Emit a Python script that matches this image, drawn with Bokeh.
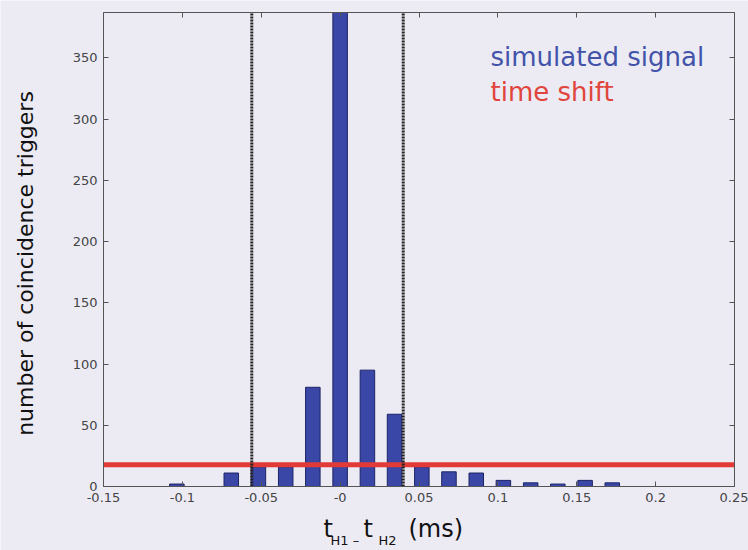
import math
from bokeh.plotting import figure
from bokeh.models import Range1d, LinearAxis, FixedTicker, Label
from bokeh.embed import file_html
from bokeh.resources import INLINE

# ---- data ----
bin_centers = [-0.1035, -0.0863, -0.069, -0.0518, -0.0345, -0.0173, 0.0, 0.0173,
               0.0345, 0.0518, 0.069, 0.0863, 0.1035, 0.1208, 0.138, 0.1553, 0.1725]
signal_counts = [2, 0, 11, 16, 16, 81, 387, 95, 59, 16, 12, 11, 5, 3, 2, 5, 3]
time_shift_level = 17.7
window_edges = [-0.056, 0.040]
x_ticks = [-0.15, -0.1, -0.05, 0.0, 0.05, 0.1, 0.15, 0.2, 0.25]
x_tick_labels = ["-0.15", "-0.1", "-0.05", "-0", "0.05", "0.1", "0.15", "0.2", "0.25"]
y_ticks = [0, 50, 100, 150, 200, 250, 300, 350]
x_limits = [-0.15, 0.25]
y_limits = [0, 387]
legend_texts = ["simulated signal", "time shift"]
y_label = "number of coincidence triggers"

FONT = "DejaVu Sans"
BG = "#ecebf4"
BAR_FILL = "#3a47a6"
BAR_LINE = "#1c2466"
RED = "#e23a36"
AX = "#555555"

# layout (pixels): the drawing box inside a full-canvas frame
W, H = 748, 550
BOX_L, BOX_R, BOX_T, BOX_B = 103, 734, 12, 486
xspan = x_limits[1] - x_limits[0]
yspan = y_limits[1] - y_limits[0]
bw, bh = BOX_R - BOX_L, BOX_B - BOX_T
xr = Range1d(x_limits[0] - xspan * BOX_L / bw, x_limits[1] + xspan * (W - BOX_R) / bw)
yr = Range1d(y_limits[0] - yspan * (H - BOX_B) / bh, y_limits[1] + yspan * BOX_T / bh)

p = figure(width=W, height=H, output_backend="svg", toolbar_location=None,
           x_range=xr, y_range=yr, min_border=0)
p.background_fill_color = BG
p.border_fill_color = BG
p.outline_line_color = None
p.xgrid.visible = False
p.ygrid.visible = False

bars = p.vbar(x=bin_centers, top=signal_counts, width=0.0092,
              fill_color=BAR_FILL, line_color=BAR_LINE, line_width=1)
shift = p.line(x=x_limits, y=[time_shift_level, time_shift_level],
               line_color=RED, line_width=5)
p.segment(x0=window_edges, y0=[y_limits[0]] * 2, x1=window_edges, y1=[y_limits[1]] * 2,
          line_color="#222222", line_width=3, line_dash="2 1")

def style_axis(ax):
    ax.axis_line_color = AX
    ax.major_tick_line_color = AX
    ax.minor_tick_line_color = AX
    ax.major_tick_in = 5
    ax.major_tick_out = 0
    ax.minor_tick_in = 0
    ax.minor_tick_out = 0
    ax.major_label_text_font = FONT
    ax.major_label_text_color = "#444444"
    ax.major_label_text_font_size = "13px"
    ax.major_label_standoff = 6

xa = p.xaxis[0]
xa.ticker = FixedTicker(ticks=x_ticks)
xa.major_label_overrides = {t: l for t, l in zip(x_ticks, x_tick_labels)}
xa.fixed_location = y_limits[0]
xa.bounds = tuple(x_limits)
style_axis(xa)

ya = p.yaxis[0]
ya.ticker = FixedTicker(ticks=y_ticks)
ya.fixed_location = x_limits[0]
ya.bounds = tuple(y_limits)
style_axis(ya)

# mirrored box axes: only (unlabelled) minor ticks pointing inwards
top_ax = LinearAxis(ticker=FixedTicker(ticks=[], minor_ticks=x_ticks),
                    bounds=tuple(x_limits), fixed_location=y_limits[1])
style_axis(top_ax)
top_ax.minor_tick_in = 5
p.add_layout(top_ax, "above")
right_ax = LinearAxis(ticker=FixedTicker(ticks=[], minor_ticks=y_ticks),
                      bounds=tuple(y_limits), fixed_location=x_limits[1])
style_axis(right_ax)
right_ax.minor_tick_in = 5
p.add_layout(right_ax, "right")

# y-axis title (rotated), screen px from canvas bottom-left
p.add_layout(Label(x=25, y=287, x_units="screen", y_units="screen", text=y_label,
                   angle=math.pi / 2, text_font=FONT, text_font_size="22px",
                   text_color="#111111", text_baseline="alphabetic", text_align="center"))

# x-axis label with subscripts: t_{H1 -} t_{H2} (ms)
xlabel_parts = [("t", 323, 22, "24px"), ("H1 \u2013", 330, 10, "13px"),
                ("t", 363, 22, "24px"), ("H2", 378, 10, "13px"),
                ("(ms)", 408, 22, "24px")]
for txt, sx, sy, fs in xlabel_parts:
    p.add_layout(Label(x=sx, y=sy, x_units="screen", y_units="screen", text=txt,
                       text_font=FONT, text_font_size=fs, text_color="#111111",
                       text_baseline="alphabetic", text_align="left"))

# legend texts
for txt, col, sy in zip(legend_texts, ["#4253a9", "#e0443c"], [494, 459]):
    p.add_layout(Label(x=490, y=sy, x_units="screen", y_units="screen", text=txt,
                       text_font=FONT, text_font_size="26px", text_color=col,
                       text_baseline="alphabetic", text_align="left"))

open("out.html", "w").write(file_html(p, INLINE))
